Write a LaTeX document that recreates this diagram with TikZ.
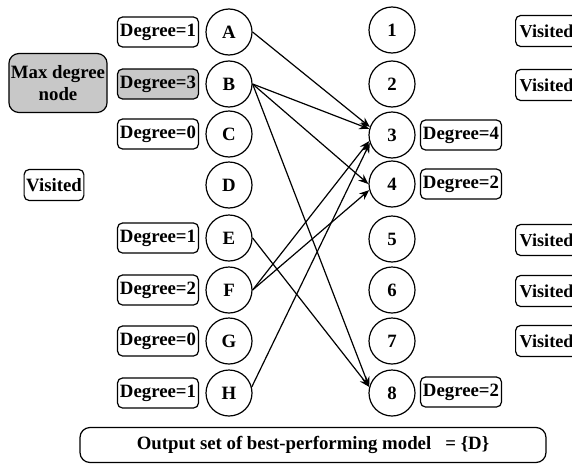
\documentclass[tikz,border=0pt]{standalone}
\usepackage{fontspec}
\setmainfont{Liberation Serif}
\usetikzlibrary{arrows.meta}
\definecolor{maxgray}{RGB}{200,200,200}
\begin{document}
\begin{tikzpicture}[x=0.5pt,y=0.5pt,yscale=-1,xscale=1,
  font=\fontsize{9.4}{11}\selectfont\bfseries,
  vert/.style={draw,circle,line width=0.6pt,minimum size=23pt,inner sep=0pt},
  degbox/.style={draw,rounded corners=2.5pt,line width=0.6pt,minimum width=40.5pt,minimum height=15pt,inner sep=1pt},
  visbox/.style={draw,rounded corners=2.5pt,line width=0.6pt,minimum width=29pt,minimum height=15.5pt,inner sep=1pt},
  visright/.style={visbox,anchor=west,inner xsep=0.8pt,minimum width=32pt,align=left,text width=28pt,font=\fontsize{9.1}{11}\selectfont\bfseries},
  edge/.style={line width=0.6pt,-{Stealth[length=5pt,width=4pt]}}]
\useasboundingbox (0,0) rectangle (572,466);
% left column
\draw (229,32) node [vert] (A) {A};
\draw (229,84) node [vert] (B) {B};
\draw (229,134) node [vert] (C) {C};
\draw (229,185) node [vert] (D) {D};
\draw (229,238) node [vert] (E) {E};
\draw (229,290) node [vert] (F) {F};
\draw (229,341) node [vert] (G) {G};
\draw (229,393) node [vert] (H) {H};
% right column
\draw (392,30) node [vert] (n1) {1};
\draw (392,84) node [vert] (n2) {2};
\draw (392,135) node [vert] (n3) {3};
\draw (392,184) node [vert] (n4) {4};
\draw (392,239) node [vert] (n5) {5};
\draw (392,290) node [vert] (n6) {6};
\draw (392,341) node [vert] (n7) {7};
\draw (392,393) node [vert] (n8) {8};
% degree labels
\draw (158,32) node [degbox] (dA) {Degree=1};
\draw (158,84) node [degbox,fill=maxgray] (dB) {Degree=3};
\draw (158,134) node [degbox] (dC) {Degree=0};
\draw (158,238) node [degbox] (dE) {Degree=1};
\draw (158,290) node [degbox] (dF) {Degree=2};
\draw (158,341) node [degbox] (dG) {Degree=0};
\draw (158,393) node [degbox] (dH) {Degree=1};
\draw (461,135) node [degbox] (d3) {Degree=4};
\draw (461,184) node [degbox] (d4) {Degree=2};
\draw (461,392) node [degbox] (d8) {Degree=2};
% visited marks
\draw (54,185) node [visbox] (vD) {Visited};
\draw (515,31) node [visright] (v1) {Visited};
\draw (515,85) node [visright] (v2) {Visited};
\draw (515,240) node [visright] (v5) {Visited};
\draw (515,291) node [visright] (v6) {Visited};
\draw (515,341) node [visright] (v7) {Visited};
\draw (58,83) node [draw,fill=maxgray,rounded corners=5pt,line width=0.6pt,minimum width=48pt,minimum height=29.5pt,align=center,inner sep=1pt] (maxdeg) {Max degree\\node};
\draw (313,445) node [draw,rounded corners=5pt,line width=0.6pt,minimum width=233pt,minimum height=17.5pt] (out) {Output set of best-performing model \ \ = \{D\}};
% edges
\draw [edge] (A.east) -- (n3.160);
\draw [edge] (B.east) -- (n3.165);
\draw [edge] (B.east) -- (n4.west);
\draw [edge] (B.east) -- (n8.165);
\draw [edge] (E.east) -- (n8.165);
\draw [edge] (F.east) -- (n3.195);
\draw [edge] (F.east) -- (n4.195);
\draw [edge] (H.15) -- (n3.200);
\end{tikzpicture}
\end{document}
